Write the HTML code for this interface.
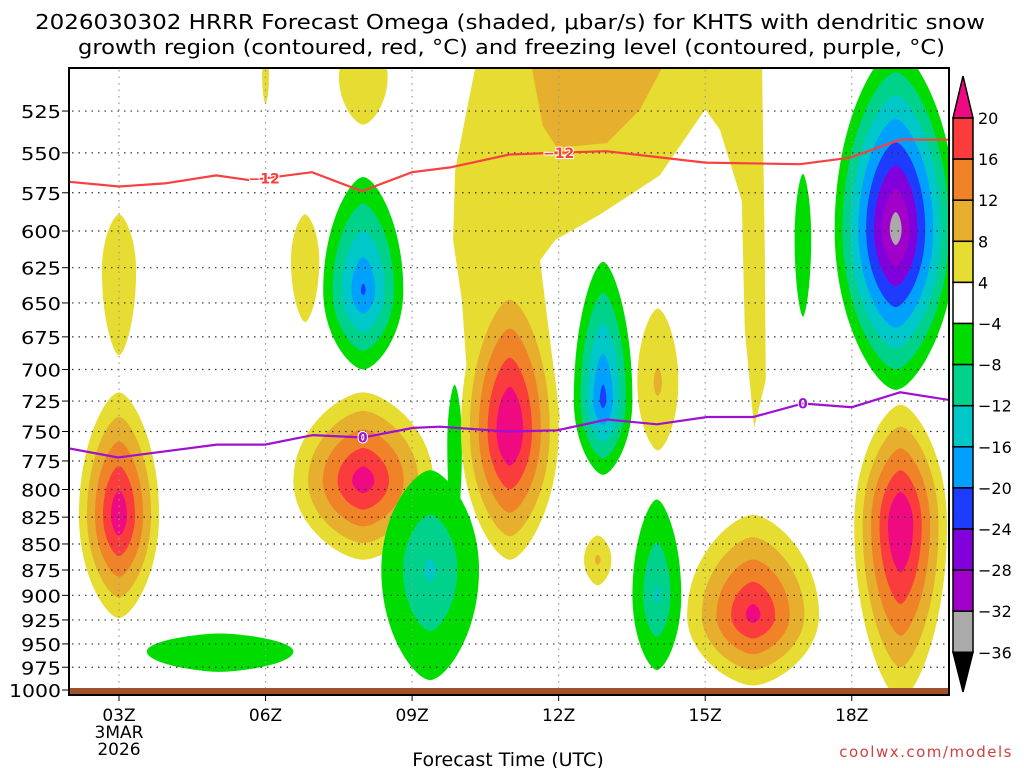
<!DOCTYPE html>
<html><head><meta charset="utf-8">
<style>
html,body{margin:0;padding:0;background:#fff;}
svg{display:block;font-family:"DejaVu Sans","Liberation Sans",sans-serif;}
</style></head>
<body>
<svg id="chart" width="1024" height="768" viewBox="0 0 1024 768">
<text x="35" y="29" font-size="20" textLength="950" lengthAdjust="spacingAndGlyphs" fill="#000">2026030302 HRRR Forecast Omega (shaded, μbar/s) for KHTS with dendritic snow</text>
<text x="78" y="54" font-size="20" textLength="867" lengthAdjust="spacingAndGlyphs" fill="#000">growth region (contoured, red, °C) and freezing level (contoured, purple, °C)</text>
<defs><clipPath id="pc"><rect x="69" y="68" width="880" height="626"/></clipPath></defs>
<g id="fills" clip-path="url(#pc)"></g>
<g id="grid"></g>
<g id="lines" clip-path="url(#pc)"></g>
<rect x="69" y="688" width="880" height="7" fill="#a0522d"/>
<rect x="69" y="68" width="880" height="627" fill="none" stroke="#000" stroke-width="2"/>
<g id="axes"></g>
<g id="cbar"></g>
<text x="508" y="766" font-size="19" text-anchor="middle">Forecast Time (UTC)</text>
<text x="1013" y="757" font-size="15" text-anchor="end" fill="#d04040" letter-spacing="1.5">coolwx.com/models</text>
</svg>
<script>
const NS='http://www.w3.org/2000/svg';
// ---- data ----
const pressureTicks=[525,550,575,600,625,650,675,700,725,750,775,800,825,850,875,900,925,950,975,1000];
const timeTicks=[3,6,9,12,15,18];
const timeLabels=['03Z','06Z','09Z','12Z','15Z','18Z'];
const posLevels=[4,8,12,16,20];
const posColors=['#e6dc32','#e6af2d','#f08228','#fa3c3c','#f00a82'];
const negLevels=[-4,-8,-12,-16,-20,-24,-28,-32,-36];
const negColors=['#00dc00','#00d28c','#00c8c8','#00a0ff','#1e3cff','#8200dc','#a000c8','#aaaaaa','#000000'];
const cbarLabels=['20','16','12','8','4','−4','−8','−12','−16','−20','−24','−28','−32','−36'];
// omega cells: hour, peak, top/center/bottom pressure, half-width hours
const cellHour=[3.0,3.0,6.81,8.0,8.0,6.0,8.0,9.37,9.87,11.0,12.91,14.03,12.8,14.01,15.98,17.0,18.9,19.0,5.07];
const cellPeak=[24,6,6,-21,23,5,8,-13,-6,26,-22,9,9,-13,22,-6,-35,26,-6];
const cellTop=[718,589,589,565,718,490,490,783,712,627,621,654,842,809,823,563,490,728,939];
const cellMid=[823,627,620,641,792,505,505,875,760,749,724,710,865,900,920,605,599,832,958];
const cellBot=[923,689,664,700,865,521,533,989,846,865,787,766,890,978,995,660,716,1010,980];
const cellHalfW=[0.82,0.35,0.29,0.82,1.43,0.07,0.5,1.0,0.15,1.0,0.6,0.42,0.28,0.5,1.35,0.17,1.25,0.95,1.5];
// irregular yellow upper region (hour, pressure)
const yReg_h=[10.33,16.16,16.22,16.24,16.0,15.81,15.75,15.3,15.0,14.07,12.85,11.93,11.62,11.72,12.03,10.19,10.02,9.84,9.88,10.08];
const yReg_p=[495,495,613,708,747,670,580,536,524,564,589,606,620,648,740,740,648,606,561,530];
const oReg_h=[11.41,14.22,13.67,12.99,11.97,11.68];
const oReg_p=[495,495,524,544,547,534];
// contour lines
const red_h=[1.98,3,3.94,4.99,5.68,6.95,7.97,9.0,9.78,11.0,11.93,12.97,15.0,16.94,17.96,18.99,19.97];
const red_p=[568,571,569,564,567,562,574,562,559,551,550,549,556,557,553,542,542];
const pur_h=[1.95,2.98,5.0,5.99,6.97,7.99,9.02,9.57,10.94,11.97,12.99,14.01,15.04,15.98,17.0,18.0,18.99,19.97];
const pur_p=[764,772,761,761,753,755,747,746,750,749,740,744,738,738,727,730,718,724];

// ---- scales ----
const X=h=>119+(h-3)*48.85;
const Y=p=>690-898.5*Math.log(1000/p);

const fills=document.getElementById('fills');
function poly(hs,ps,color,name){
  const el=document.createElementNS(NS,'polygon');
  el.setAttribute('points',hs.map((h,i)=>X(h).toFixed(1)+','+Y(ps[i]).toFixed(1)).join(' '));
  el.setAttribute('fill',color);
  
  
  fills.appendChild(el);
}
poly(yReg_h,yReg_p,posColors[0],'upper-yellow-region');
poly(oReg_h,oReg_p,posColors[1],'upper-orange-region');

for(let i=0;i<cellHour.length;i++){
  const P=Math.abs(cellPeak[i]);
  const lv=cellPeak[i]>0?posLevels:negLevels;
  const cs=cellPeak[i]>0?posColors:negColors;
  const cx=X(cellHour[i]),cy=Y(cellMid[i]);
  const W=cellHalfW[i]*48.85,T=cy-Y(cellTop[i]),B=Y(cellBot[i])-cy;
  for(let j=0;j<lv.length;j++){
    const L=Math.abs(lv[j]);
    if(L>=P) break;
    const s=Math.pow((P-L)/(P-4),1.0);
    const rw=W*s,rt=T*s,rb=B*s,k=0.3,m=0.6;
    const d=`M${cx},${cy-rt} C${cx+rw*k},${cy-rt} ${cx+rw},${cy-rt*m} ${cx+rw},${cy} C${cx+rw},${cy+rb*m} ${cx+rw*k},${cy+rb} ${cx},${cy+rb} C${cx-rw*k},${cy+rb} ${cx-rw},${cy+rb*m} ${cx-rw},${cy} C${cx-rw},${cy-rt*m} ${cx-rw*k},${cy-rt} ${cx},${cy-rt}Z`;
    const el=document.createElementNS(NS,'path');
    el.setAttribute('d',d);
    el.setAttribute('fill',cs[j]);
    
    
    fills.appendChild(el);
  }
}

// grid
const grid=document.getElementById('grid');
pressureTicks.forEach(p=>{
  if(p>=1000)return;
  const l=document.createElementNS(NS,'line');
  l.setAttribute('x1',72);l.setAttribute('x2',947);
  l.setAttribute('y1',Y(p));l.setAttribute('y2',Y(p));
  l.setAttribute('stroke','#333');l.setAttribute('stroke-width','1.2');l.setAttribute('stroke-dasharray','1.5,5');
  
  
  grid.appendChild(l);
});
timeTicks.forEach(h=>{
  const l=document.createElementNS(NS,'line');
  l.setAttribute('x1',X(h));l.setAttribute('x2',X(h));
  l.setAttribute('y1',70);l.setAttribute('y2',688);
  l.setAttribute('stroke','#999');l.setAttribute('stroke-width','1.2');l.setAttribute('stroke-dasharray','1.5,5');
  
  
  grid.appendChild(l);
});

// contour lines
const lines=document.getElementById('lines');
function pl(hs,ps,color,name){
  const el=document.createElementNS(NS,'polyline');
  el.setAttribute('points',hs.map((h,i)=>X(h).toFixed(1)+','+Y(ps[i]).toFixed(1)).join(' '));
  el.setAttribute('fill','none');el.setAttribute('stroke',color);el.setAttribute('stroke-width','2.2');
  
  
  lines.appendChild(el);
}
pl(red_h,red_p,'#f84040','dgz-minus12-contour');
pl(pur_h,pur_p,'#a010d0','freezing-level-contour');
function lbl(h,p,t,color,name){
  const el=document.createElementNS(NS,'text');
  el.setAttribute('x',X(h));el.setAttribute('y',Y(p)+5);
  el.setAttribute('font-size','14');el.setAttribute('font-weight','bold');el.setAttribute('text-anchor','middle');
  el.setAttribute('fill',color);el.setAttribute('stroke','#fff');el.setAttribute('stroke-width','2');el.setAttribute('paint-order','stroke');
  el.textContent=t;
  
  
  lines.appendChild(el);
}
lbl(5.97,566,'−12','#f84040','contour-label-minus12-a');
lbl(12.0,550,'−12','#f84040','contour-label-minus12-b');
lbl(7.99,755,'0','#a010d0','contour-label-zero-a');
lbl(17.0,727,'0','#a010d0','contour-label-zero-b');

// axes
const axes=document.getElementById('axes');
pressureTicks.forEach(p=>{
  const t=document.createElementNS(NS,'text');
  t.setAttribute('x',61);t.setAttribute('y',Y(p)+7);t.setAttribute('font-size','18');t.setAttribute('text-anchor','end');
  t.setAttribute('textLength',p>=1000?52:40);t.setAttribute('lengthAdjust','spacingAndGlyphs');
  t.textContent=p;
  
  
  axes.appendChild(t);
  const k=document.createElementNS(NS,'line');
  k.setAttribute('x1',62);k.setAttribute('x2',69);k.setAttribute('y1',Y(p));k.setAttribute('y2',Y(p));k.setAttribute('stroke','#000');
  axes.appendChild(k);
});
timeTicks.forEach((h,i)=>{
  const t=document.createElementNS(NS,'text');
  t.setAttribute('x',X(h));t.setAttribute('y',721);t.setAttribute('font-size','17');t.setAttribute('text-anchor','middle');
  t.textContent=timeLabels[i];
  
  
  axes.appendChild(t);
  const k=document.createElementNS(NS,'line');
  k.setAttribute('x1',X(h));k.setAttribute('x2',X(h));k.setAttribute('y1',695);k.setAttribute('y2',701);k.setAttribute('stroke','#000');
  axes.appendChild(k);
});
[['3MAR',738],['2026',755]].forEach(([s,y])=>{
  const t=document.createElementNS(NS,'text');
  t.setAttribute('x',X(3));t.setAttribute('y',y);t.setAttribute('font-size','17');t.setAttribute('text-anchor','middle');
  t.textContent=s;
  
  
  axes.appendChild(t);
});

// colorbar
const cb=document.getElementById('cbar');
const cbColors=[posColors[4],posColors[3],posColors[2],posColors[1],posColors[0],'#ffffff',...negColors];
const top0=118,step=41.1,cx0=953,cw=20;
cbColors.forEach((c,i)=>{
  let el=document.createElementNS(NS,i===0||i===cbColors.length-1?'polygon':'rect');
  if(i===0){el.setAttribute('points',`${cx0},${top0} ${cx0+cw},${top0} ${cx0+cw/2},${76}`);}
  else if(i===cbColors.length-1){const y=top0+(i-1)*step;el.setAttribute('points',`${cx0},${y} ${cx0+cw},${y} ${cx0+cw/2},${692}`);}
  else{el.setAttribute('x',cx0);el.setAttribute('y',top0+(i-1)*step);el.setAttribute('width',cw);el.setAttribute('height',step);}
  el.setAttribute('fill',c);el.setAttribute('stroke','#000');el.setAttribute('stroke-width','1.5');
  
  
  cb.appendChild(el);
});
cbarLabels.forEach((s,i)=>{
  const t=document.createElementNS(NS,'text');
  t.setAttribute('x',978);t.setAttribute('y',top0+i*step+6);t.setAttribute('font-size','16');
  t.textContent=s;
  
  
  cb.appendChild(t);
});
</script>
</body></html>
